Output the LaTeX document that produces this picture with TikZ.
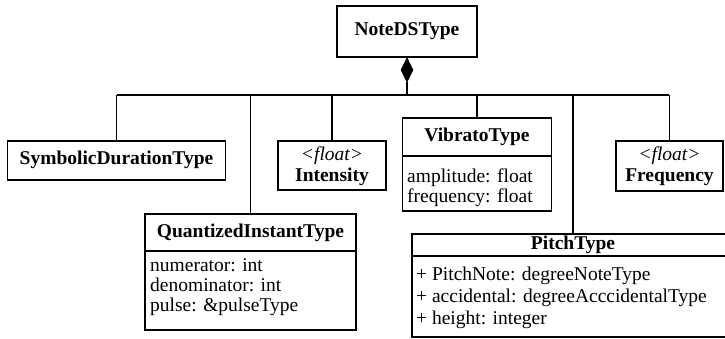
\documentclass[tikz,border=0pt]{standalone}
\usepackage{fontspec}
\setmainfont{Liberation Serif}
\usetikzlibrary{shapes.geometric}
\begin{document}
\begin{tikzpicture}[x=1pt,y=-1pt,
  box/.style={draw, line width=1.1pt, inner sep=0pt, fill=white},
  ttl/.style={font=\fontsize{19.5}{20}\selectfont\bfseries, inner sep=0pt, text height=13pt, text depth=4pt},
  ita/.style={font=\fontsize{19.5}{20}\selectfont\itshape, inner sep=0pt, text height=13pt, text depth=4pt},
  attr/.style={font=\fontsize{19.5}{20}\selectfont, inner sep=0pt, anchor=west, text height=13pt, text depth=4pt},
  conn/.style={line width=1.1pt}]
\clip (0,0) rectangle (725,339);
% boxes
\node[box, minimum width=140pt, minimum height=51pt] (note) at (407,31.5) {};
\node[ttl] (noteT) at (note.center) {NoteDSType};
\node[box, minimum width=218pt, minimum height=39pt] (sym) at (116.5,160.5) {};
\node[ttl] (symT) at (sym.center) {SymbolicDurationType};
\node[box, minimum width=108pt, minimum height=49pt] (int) at (332,165.5) {};
\node[ita] (intF) at (332,156) {<float>};
\node[ttl] (intT) at (332,177) {Intensity};
\node[box, minimum width=149pt, minimum height=93pt] (vib) at (477,164.5) {};
\node[ttl] (vibT) at (477,137) {VibratoType};
\node[attr] (vib1) at (407,178) {amplitude: float};
\node[attr] (vib2) at (407,198) {frequency: float};
\node[box, minimum width=107pt, minimum height=50pt] (freq) at (669.5,166) {};
\node[ita] (freqF) at (669.5,156) {<float>};
\node[ttl] (freqT) at (669.5,177) {Frequency};
\node[box, minimum width=211pt, minimum height=116pt] (quant) at (250.5,272) {};
\node[ttl] (quantT) at (250.5,232.5) {QuantizedInstantType};
\node[attr] (q1) at (150,267) {numerator: int};
\node[attr] (q2) at (150,287) {denominator: int};
\node[attr] (q3) at (150,307) {pulse: \&pulseType};
\node[box, minimum width=322pt, minimum height=103pt] (pitch) at (573,285.5) {};
\node[ttl] (pitchT) at (573,245) {PitchType};
\node[attr] (p1) at (416,275.5) {+ PitchNote: degreeNoteType};
\node[attr] (p2) at (416,298) {+ accidental: degreeAcccidentalType};
\node[attr] (p3) at (416,320) {+ height: integer};
% dividers
\draw[conn] (vib.west |- 0,156) -- (vib.east |- 0,156);
\draw[conn] (quant.west |- 0,251) -- (quant.east |- 0,251);
\draw[conn] (pitch.west |- 0,256) -- (pitch.east |- 0,256);
% composition
\node[diamond, draw, fill=black, line width=0.8pt, minimum width=12pt, minimum height=24pt, inner sep=0pt, anchor=north] (dia) at (note.south) {};
\coordinate (busL) at (117,95);
\coordinate (busR) at (669,95);
\draw[conn] (busL) -- (busR);
\draw[conn] (dia.south) -- (dia.south |- busL);
\draw[conn] (sym.north) -- (sym.north |- busL);
\draw[conn] (quant.north) -- (quant.north |- busL);
\draw[conn] (int.north) -- (int.north |- busL);
\draw[conn] (vib.north) -- (vib.north |- busL);
\draw[conn] (pitch.north) -- (pitch.north |- busL);
\draw[conn] (freq.north) -- (freq.north |- busL);
\end{tikzpicture}
\end{document}
